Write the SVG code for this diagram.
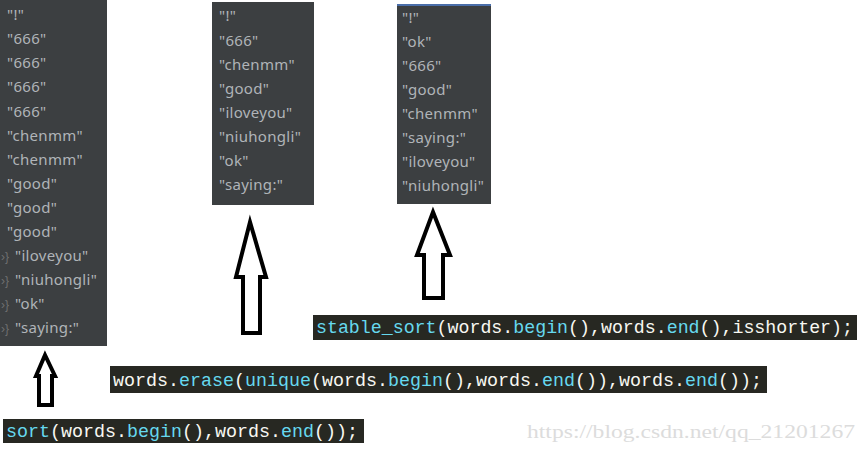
<svg xmlns="http://www.w3.org/2000/svg" width="867" height="452" viewBox="0 0 867 452">
<style>
.panel{fill:#3c3f41}
.w{font-family:"Noto Sans","Liberation Sans",sans-serif;font-size:15px;letter-spacing:0.3px;fill:#b0b4b8}
.m{font-family:"Liberation Sans",sans-serif;font-size:12px;fill:#707070}
.bar{fill:#272822}
.code{font-family:"Liberation Mono","DejaVu Sans Mono",monospace;font-size:18px;fill:#f8f8f2}
.f{fill:#66d9ef}
.arrow{fill:#ffffff;stroke:#000000;stroke-width:4;stroke-linejoin:miter}
.wm{font-family:"Liberation Serif",serif;font-size:18px;fill:#dcdcdc}
</style>
<rect width="867" height="452" fill="#ffffff"/>
<g id="panel-sort">
<rect class="panel" x="0" y="0" width="107" height="346"/>
<text class="w" x="7" y="20">"!"</text>
<text class="w" x="7" y="44">"666"</text>
<text class="w" x="7" y="68">"666"</text>
<text class="w" x="7" y="92">"666"</text>
<text class="w" x="7" y="117">"666"</text>
<text class="w" x="7" y="141">"chenmm"</text>
<text class="w" x="7" y="165">"chenmm"</text>
<text class="w" x="7" y="189">"good"</text>
<text class="w" x="7" y="213">"good"</text>
<text class="w" x="7" y="237">"good"</text>
<text class="m" x="1" y="261">›}</text>
<text class="w" x="15" y="261">"iloveyou"</text>
<text class="m" x="1" y="285">›}</text>
<text class="w" x="15" y="285">"niuhongli"</text>
<text class="m" x="1" y="309">›}</text>
<text class="w" x="15" y="309">"ok"</text>
<text class="m" x="1" y="333">›}</text>
<text class="w" x="15" y="333">"saying:"</text>
</g>
<g id="panel-unique">
<rect class="panel" x="212" y="2" width="102" height="203"/>
<text class="w" x="219" y="21">"!"</text>
<text class="w" x="219" y="46">"666"</text>
<text class="w" x="219" y="70">"chenmm"</text>
<text class="w" x="219" y="94">"good"</text>
<text class="w" x="219" y="118">"iloveyou"</text>
<text class="w" x="219" y="142">"niuhongli"</text>
<text class="w" x="219" y="166">"ok"</text>
<text class="w" x="219" y="190">"saying:"</text>
</g>
<g id="panel-stable">
<rect class="panel" x="397" y="4" width="94" height="200"/>
<rect x="397" y="4" width="94" height="2" fill="#4a6ea9"/>
<text class="w" x="402" y="23">"!"</text>
<text class="w" x="402" y="47">"ok"</text>
<text class="w" x="402" y="71">"666"</text>
<text class="w" x="402" y="95">"good"</text>
<text class="w" x="402" y="119">"chenmm"</text>
<text class="w" x="402" y="143">"saying:"</text>
<text class="w" x="402" y="167">"iloveyou"</text>
<text class="w" x="402" y="191">"niuhongli"</text>
</g>
<g id="code-stable">
<rect class="bar" x="313" y="315" width="544" height="25"/>
<text class="code" x="316" y="333" textLength="537" lengthAdjust="spacingAndGlyphs"><tspan class="f">stable_sort</tspan>(words.<tspan class="f">begin</tspan>(),words.<tspan class="f">end</tspan>(),isshorter);</text>
</g>
<g id="code-erase">
<rect class="bar" x="110" y="366" width="657" height="27"/>
<text class="code" x="113" y="386" textLength="649" lengthAdjust="spacingAndGlyphs">words.<tspan class="f">erase</tspan>(<tspan class="f">unique</tspan>(words.<tspan class="f">begin</tspan>(),words.<tspan class="f">end</tspan>()),words.<tspan class="f">end</tspan>());</text>
</g>
<g id="code-sort">
<rect class="bar" x="3" y="419" width="361" height="24"/>
<text class="code" x="6" y="437" textLength="352" lengthAdjust="spacingAndGlyphs"><tspan class="f">sort</tspan>(words.<tspan class="f">begin</tspan>(),words.<tspan class="f">end</tspan>());</text>
</g>
<g id="connectors">
<polygon class="arrow" points="45,355 55,376 52,376 52,405 39,405 39,376 36,376"/>
<polygon class="arrow" points="250,222 266,277 260,277 260,333 243,333 243,277 236,277"/>
<polygon class="arrow" points="433,212 450,255 443,255 443,298 424,298 424,255 417,255"/>
</g>
<text class="wm" x="527" y="438" textLength="328" lengthAdjust="spacingAndGlyphs">https://blog.csdn.net/qq_21201267</text>
</svg>
